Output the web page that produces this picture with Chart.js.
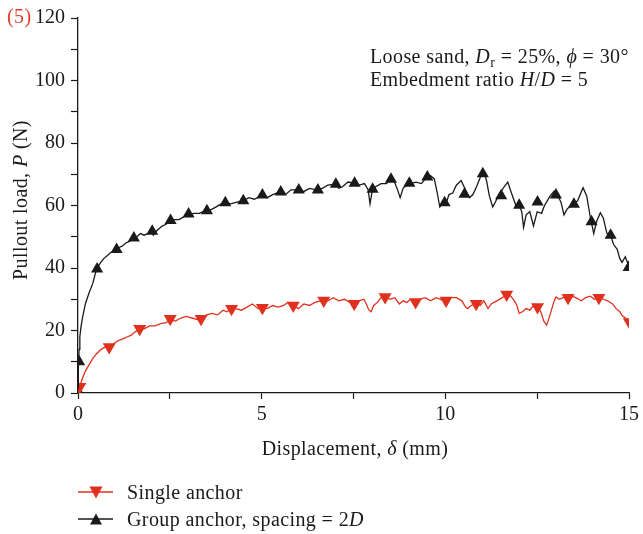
<!DOCTYPE html>
<html>
<head>
<meta charset="utf-8">
<script src="https://cdn.jsdelivr.net/npm/chart.js@4"></script>
<style>
  body { margin: 0; background: #fff; }
  #wrap { position: relative; width: 643px; height: 534px; font-family: "Liberation Serif", "DejaVu Serif", serif; color: #1a1a1a; }
  .txt { position: absolute; font-size: 20px; letter-spacing: 0.4px; white-space: nowrap; line-height: 1; }
  i { font-style: italic; }
  sub { font-size: 14px; vertical-align: -4px; line-height: 0; }
</style>
</head>
<body>
<div id="wrap">
  <canvas id="chart" width="643" height="534"></canvas>
  <div class="txt" style="left:7px; top:6px; color:#e0402a;">(5)</div>
  <div class="txt" style="left:370px; top:46px;">Loose sand, <i>D</i><sub>r</sub> = 25%, <i>ϕ</i> = 30°</div>
  <div class="txt" style="left:370px; top:69px;">Embedment ratio <i>H</i>/<i>D</i> = 5</div>
  <div class="txt" style="left:355px; top:438px; transform:translateX(-50%);">Displacement, <i>δ</i> (mm)</div>
  <div class="txt" style="left:20px; top:200px; transform:translate(-50%,-50%) rotate(-90deg);">Pullout load, <i>P</i> (N)</div>
  <svg style="position:absolute; left:0; top:0;" width="643" height="534">
    <line x1="78" y1="492" x2="113" y2="492" stroke="#e0301e" stroke-width="1.5"/>
    <polygon points="89.5,486.5 102.5,486.5 96,498.5" fill="#e0301e"/>
    <line x1="78" y1="519" x2="113" y2="519" stroke="#1a1a1a" stroke-width="1.5"/>
    <polygon points="90,524.5 102,524.5 96,513.5" fill="#1a1a1a"/>
  </svg>
  <div class="txt" style="left:127px; top:482px;">Single anchor</div>
  <div class="txt" style="left:127px; top:509px;">Group anchor, spacing = 2<i>D</i></div>
</div>
<script>
// group anchor curve (mm, N)
const blackX = [0, 0.01, 0.03, 0.05, 0.08, 0.12, 0.2, 0.3, 0.4, 0.5, 0.6, 0.7, 0.8, 0.9, 1.0, 1.1, 1.2, 1.3, 1.4, 1.5,
  1.6, 1.7, 1.8, 1.9, 2.0, 2.05, 2.15, 2.3, 2.4, 2.5, 2.6, 2.75, 2.9, 3.0, 3.15, 3.3, 3.45, 3.6, 3.75, 3.9,
  4.0, 4.15, 4.3, 4.5, 4.65, 4.8, 5.0, 5.15, 5.3, 5.5, 5.65, 5.8, 6.0, 6.15, 6.3, 6.5, 6.65, 6.8, 7.0, 7.1,
  7.2, 7.35, 7.5, 7.65, 7.8, 7.9, 7.95, 8.0, 8.1, 8.25, 8.4, 8.5, 8.6, 8.7, 8.77, 8.85, 8.95, 9.05, 9.2, 9.35,
  9.5, 9.6, 9.7, 9.78, 9.85, 9.95, 10.03, 10.1, 10.2, 10.3, 10.43, 10.55, 10.66, 10.75, 10.85, 11.0, 11.05, 11.12, 11.2, 11.29,
  11.4, 11.5, 11.6, 11.7, 11.8, 11.92, 12.0, 12.08, 12.13, 12.2, 12.3, 12.4, 12.5, 12.62, 12.7, 12.85, 12.96, 13.05, 13.15, 13.23,
  13.32, 13.45, 13.6, 13.75, 13.85, 13.95, 14.04, 14.12, 14.22, 14.3, 14.4, 14.5, 14.58, 14.68, 14.75, 14.81, 14.9, 14.95, 15.0];
const blackY = [0, 8, 14, 18, 21, 24, 28.5, 32, 35, 39.5, 41.5, 43, 44, 45, 45.5, 46.5, 47, 48, 48.5, 49.5,
  50, 51, 50.5, 51, 52, 50.5, 52, 53.5, 54, 55, 55.5, 55.5, 56.5, 57, 57.5, 57.5, 58.3, 58.5, 59.5, 60.5,
  61, 60.5, 61, 61.5, 62.5, 62, 63.2, 62.5, 63.5, 64.3, 63.5, 65, 65, 64.5, 65.5, 65, 65.5, 66.5, 66.8, 65.5,
  66, 67.5, 67.2, 66.5, 67, 65, 60.5, 64, 66, 67, 67, 68.5, 68, 65, 62.5, 65.5, 66.5, 67, 67.5, 67,
  69.2, 69.5, 68.5, 64, 59.5, 61, 61, 63.5, 64, 66.5, 68, 65, 62.5, 63.5, 66, 70.5, 71, 68, 63, 59.5,
  62, 64, 66, 67.5, 64, 60, 60.5, 58, 53, 57, 58, 53.5, 58, 57.5, 60, 63, 64.6, 63.5, 61, 57,
  59, 60, 61.5, 65.7, 63, 56, 51, 55, 57.7, 56, 51, 50.5, 47.5, 46, 43, 41.8, 43.6, 42, 40.5];
const blackMarkX = [0, 0.03, 0.52, 1.05, 1.52, 2.02, 2.52, 3.01, 3.51, 4.01, 4.5, 5.02, 5.52, 6.01, 6.53, 7.02,
  7.53, 8.02, 8.52, 9.02, 9.51, 9.98, 10.52, 11.02, 11.52, 12.01, 12.51, 13.01, 13.5, 13.98, 14.5, 14.99];
const blackMarkY = [0, 10, 39.7, 45.9, 49.6, 51.8, 55.2, 57.3, 58.3, 60.9, 61.5, 63.4, 64.3, 65, 65, 66.8,
  67.1, 65.2, 68.4, 67.1, 69.1, 60.9, 63.6, 70.2, 63.1, 60.1, 61.1, 63.4, 60.4, 54.8, 50.5, 40.2];

// single anchor curve (mm, N)
const redX = [0, 0.05, 0.1, 0.2, 0.3, 0.4, 0.5, 0.6, 0.7, 0.85, 0.95, 1.05, 1.15, 1.25, 1.35, 1.45, 1.55, 1.68, 1.8, 1.95,
  2.1, 2.25, 2.4, 2.51, 2.65, 2.8, 2.95, 3.1, 3.25, 3.35, 3.5, 3.65, 3.8, 3.95, 4.05, 4.18, 4.3, 4.45, 4.6, 4.75,
  4.9, 5.02, 5.15, 5.3, 5.45, 5.6, 5.72, 5.86, 6.0, 6.15, 6.3, 6.45, 6.6, 6.69, 6.8, 6.95, 7.1, 7.25, 7.4, 7.52,
  7.65, 7.78, 7.85, 7.92, 7.98, 8.05, 8.15, 8.25, 8.36, 8.5, 8.62, 8.75, 8.85, 8.95, 9.05, 9.19, 9.3, 9.45, 9.6, 9.75,
  9.9, 10.02, 10.15, 10.3, 10.45, 10.55, 10.61, 10.7, 10.84, 10.95, 11.05, 11.16, 11.25, 11.4, 11.55, 11.67, 11.78, 11.88, 11.95, 12.01,
  12.1, 12.2, 12.3, 12.4, 12.51, 12.6, 12.68, 12.76, 12.85, 12.95, 13.01, 13.1, 13.2, 13.34, 13.45, 13.55, 13.7, 13.82, 13.95, 14.05,
  14.18, 14.3, 14.42, 14.55, 14.65, 14.75, 14.81, 14.9, 15.0];
const redY = [0, 2, 4, 7, 9, 11, 12.5, 13.7, 14.5, 14.7, 15.5, 16.5, 17, 17.5, 18, 18.5, 19.5, 20.5, 20.5, 21.5,
  21.5, 22.2, 22.5, 23.5, 23, 24, 24.5, 24, 23.5, 24, 25, 25.5, 25, 26.5, 26, 27, 27, 26.5, 27.5, 28.5,
  27, 27.3, 27, 28, 27.5, 28, 29, 28, 27, 28.5, 28, 29, 29.5, 29.6, 29.5, 30.5, 29.5, 30, 29, 28.6,
  29.5, 30, 28.5, 26.5, 26, 28, 29, 30.5, 30.7, 30, 30.5, 28.5, 29.5, 29, 30, 29.1, 30, 30.5, 29.5, 30.5,
  29.8, 30.2, 30.5, 30.5, 29.5, 27.5, 27, 28, 28.6, 28, 29.5, 27, 28.5, 29.5, 30.5, 31.5, 31, 29.5, 28, 25.5,
  26, 27, 26.5, 28, 27.5, 26, 23, 21.7, 25, 29, 30.7, 30, 30.5, 30.5, 31, 30.5, 29.5, 30.5, 31, 30,
  30.5, 30, 29.5, 28.5, 27, 26, 24.8, 24, 23];
const redMarkX = [0.05, 0.85, 1.68, 2.51, 3.35, 4.18, 5.02, 5.86, 6.69, 7.52, 8.36, 9.19, 10.02, 10.84, 11.67, 12.51, 13.34, 14.18, 15.01];
const redMarkY = [2, 14.7, 20.6, 23.8, 23.8, 27, 27.3, 28, 29.6, 28.6, 30.7, 29.1, 29.6, 28.6, 31.5, 27.5, 30.5, 30.5, 22.7];

const RED = '#e0301e';
const BLACK = '#1a1a1a';

const pts = (xs, ys) => xs.map((x, i) => ({ x: x, y: ys[i] }));

new Chart(document.getElementById('chart'), {
  type: 'scatter',
  data: {
    datasets: [
      {
        label: 'Single anchor',
        data: pts(redX, redY),
        showLine: true,
        borderColor: RED,
        borderWidth: 1.3,
        pointRadius: 0
      },
      {
        label: 'Group anchor, spacing = 2D',
        data: pts(blackX, blackY),
        showLine: true,
        borderColor: BLACK,
        borderWidth: 1.3,
        pointRadius: 0
      },
      {
        label: 'single markers',
        data: pts(redMarkX, redMarkY),
        showLine: false,
        pointStyle: 'triangle',
        rotation: 180,
        pointRadius: 7.5,
        backgroundColor: RED,
        borderColor: RED,
        borderWidth: 0
      },
      {
        label: 'group markers',
        data: pts(blackMarkX, blackMarkY),
        showLine: false,
        pointStyle: ctx => ctx.dataIndex === 0 ? 'circle' : 'triangle',
        pointRadius: ctx => ctx.dataIndex === 0 ? 4.5 : 7,
        backgroundColor: BLACK,
        borderColor: BLACK,
        borderWidth: 0
      }
    ]
  },
  options: {
    responsive: false,
    devicePixelRatio: 1,
    animation: false,
    layout: { padding: { left: 0, top: 16, right: 10, bottom: 111 } },
    plugins: {
      legend: { display: false },
      tooltip: { enabled: false }
    },
    scales: {
      x: {
        type: 'linear',
        min: 0,
        max: 15,
        afterFit: s => { s.height = 30; },
        border: { color: BLACK, width: 1.3 },
        grid: { drawOnChartArea: false, drawTicks: true, tickLength: 6, color: BLACK, tickWidth: 1.2 },
        ticks: {
          stepSize: 2.5,
          padding: 4,
          color: BLACK,
          font: { family: 'Liberation Serif', size: 20 },
          maxRotation: 0,
          callback: v => (v % 5 === 0 ? v : '')
        }
      },
      y: {
        min: 0,
        max: 120,
        afterFit: s => { s.width = 78; },
        border: { color: BLACK, width: 1.3 },
        grid: { drawOnChartArea: false, drawTicks: true, tickLength: 7, color: BLACK, tickWidth: 1.2 },
        ticks: {
          stepSize: 10,
          padding: 6,
          color: BLACK,
          font: { family: 'Liberation Serif', size: 20 },
          callback: v => (v % 20 === 0 ? v : '')
        }
      }
    }
  }
});
</script>
</body>
</html>
